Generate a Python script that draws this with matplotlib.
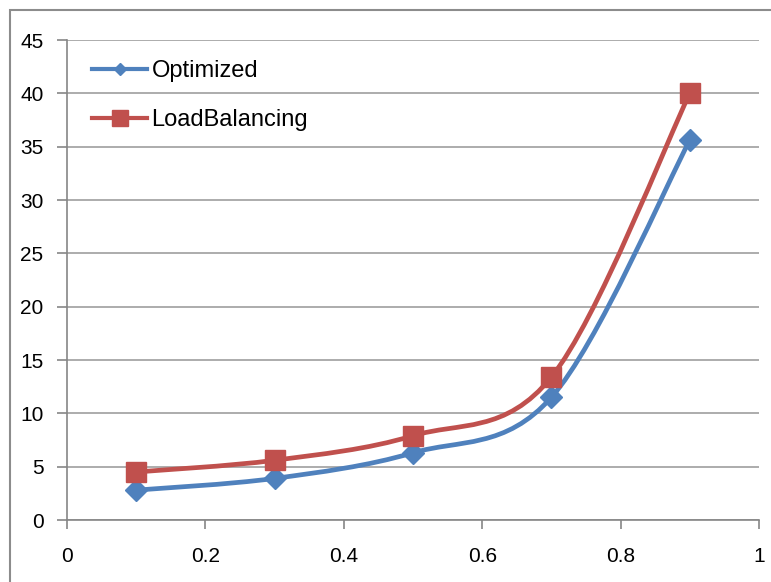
import matplotlib
matplotlib.use('Agg')
import matplotlib.pyplot as plt
import numpy as np
from matplotlib.path import Path
from matplotlib.patches import PathPatch, Rectangle
from matplotlib.lines import Line2D

load = [0.1, 0.3, 0.5, 0.7, 0.9]
optimized = [2.8, 3.9, 6.3, 11.5, 35.6]
load_balancing = [4.5, 5.6, 7.9, 13.4, 40.0]
x_ticks = [0, 0.2, 0.4, 0.6, 0.8, 1]
x_labels = ['0', '0.2', '0.4', '0.6', '0.8', '1']
y_ticks = [0, 5, 10, 15, 20, 25, 30, 35, 40, 45]

blue = '#4F81BD'
red = '#C0504D'
grid_c = '#A6A6A6'

plt.rcParams['font.family'] = ['Liberation Sans', 'DejaVu Sans']


def smooth_path(x, y):
    # excel style smoothed line: cubic bezier through every point
    pts = np.column_stack([x, y])
    n = len(pts)
    verts = [pts[0]]
    codes = [Path.MOVETO]
    for i in range(n - 1):
        p0 = pts[max(i - 1, 0)]
        p1 = pts[i]
        p2 = pts[i + 1]
        p3 = pts[min(i + 2, n - 1)]
        verts += [p1 + (p2 - p0) / 6, p2 - (p3 - p1) / 6, p2]
        codes += [Path.CURVE4] * 3
    return Path(verts, codes)


fig = plt.figure(figsize=(7.71, 5.82), dpi=100)
fig.patches.append(Rectangle((10 / 771, -0.1), 1.2, 1.1 - 10 / 582,
                             transform=fig.transFigure, fill=False,
                             edgecolor='#8C8C8C', lw=1.5))
ax = fig.add_axes([67 / 771, 1 - 520 / 582, (759 - 67) / 771, (520 - 40) / 582])

series = [(optimized, blue, 'D', 11.5, 6.3, 'Optimized'),
          (load_balancing, red, 's', 15, 11.5, 'LoadBalancing')]
handles = []
for vals, c, m, ms, lms, name in series:
    ax.add_patch(PathPatch(smooth_path(load, vals), facecolor='none',
                           edgecolor=c, lw=3.4, zorder=3, capstyle='round'))
    ax.plot(load, vals, ls='none', marker=m, ms=ms, color=c, zorder=4)
    handles.append(Line2D([], [], color=c, lw=3, marker=m, ms=lms, label=name))

ax.set_xlim(0, 1)
ax.set_ylim(0, 45)
ax.set_xticks(x_ticks)
ax.set_xticklabels(x_labels)
ax.set_yticks(y_ticks)
ax.yaxis.grid(True, color=grid_c, lw=1.3)
ax.set_axisbelow(True)
for s in ['top', 'right']:
    ax.spines[s].set_visible(False)
for s in ['left', 'bottom']:
    ax.spines[s].set_color('#868686')
    ax.spines[s].set_linewidth(1.2)
ax.tick_params(axis='y', length=7, width=1.2, color='#868686', labelsize=15, pad=10)
ax.tick_params(axis='x', length=6.5, width=1.2, color='#868686', labelsize=15, pad=13)

ax.legend(handles=handles, loc='upper left', bbox_to_anchor=(0.036, 0.958),
          frameon=False, fontsize=17, handlelength=2.35, handletextpad=0.17,
          labelspacing=1.13, borderpad=0, borderaxespad=0)

fig.savefig('out.png', dpi=100)
